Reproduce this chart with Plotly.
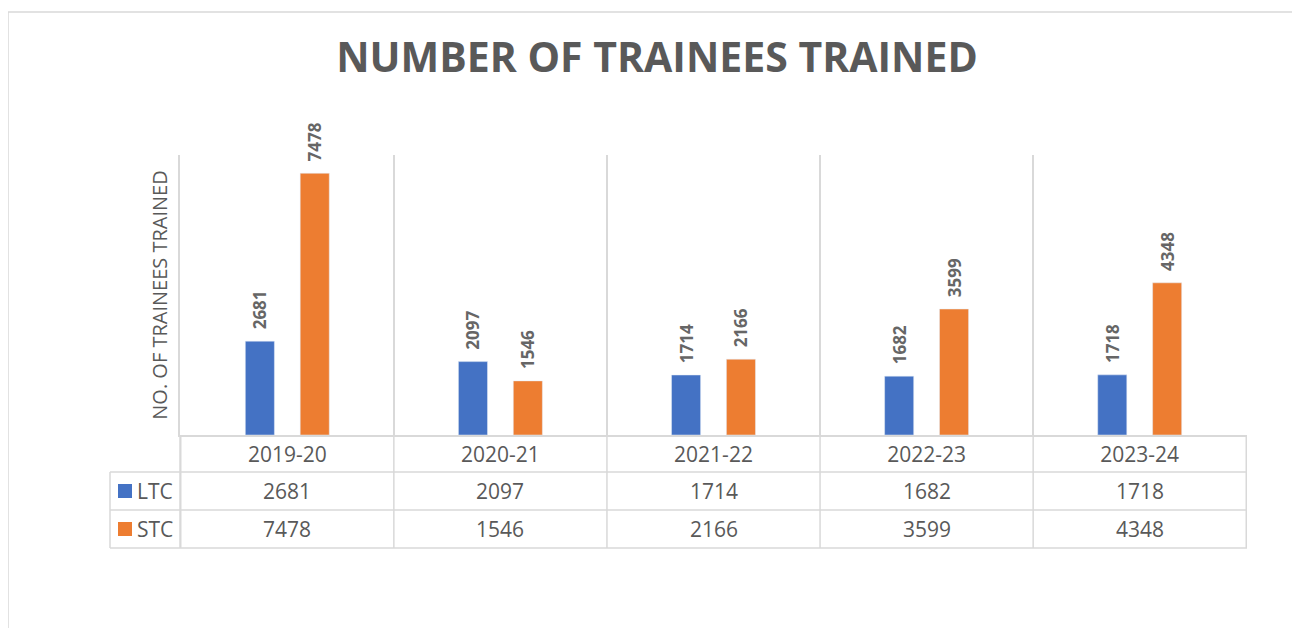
import plotly.graph_objects as go

W, H = 1300, 628

years = ["2019-20", "2020-21", "2021-22", "2022-23", "2023-24"]
ltc = [2681, 2097, 1714, 1682, 1718]
stc = [7478, 1546, 2166, 3599, 4348]

series = [("LTC", ltc, "#4472C4"), ("STC", stc, "#ED7D31")]

GRID = "#d9d9d9"
TXT = "#595959"
FONT = "Open Sans"
OFF = 8  # page body margin


def px(x):
    return (x - OFF) / W


def py(y):
    return 1 - (y - OFF) / H


fig = go.Figure()
for name, vals, color in series:
    fig.add_trace(go.Bar(
        x=years, y=vals, name=name, marker_color=color,
        texttemplate="\u00a0\u00a0%{y}", textposition="outside", textangle=-90,
        textfont=dict(family=FONT, size=17, color="#666666", weight="bold"),
        constraintext="none", cliponaxis=False,
    ))

# plot area in pixels
left, right, top, base = 180, 1247, 155, 435
rows = [472, 510, 548]

fig.update_layout(
    width=W, height=H,
    margin=dict(l=0, r=0, t=0, b=0),
    paper_bgcolor="white", plot_bgcolor="white",
    showlegend=False,
    barmode="group", bargap=0.485, bargroupgap=0.47,
    font=dict(family=FONT, color=TXT),
    title=dict(text="<b>NUMBER OF TRAINEES TRAINED</b>", x=px(657), xanchor="center",
               y=py(58), yanchor="middle",
               font=dict(family=FONT, size=41, color=TXT)),
    xaxis=dict(domain=[px(left), px(right)], type="category", tickson="boundaries",
               showgrid=True, gridcolor=GRID, gridwidth=1.5, ticks="",
               showline=True, linecolor=GRID, linewidth=1.5,
               tickfont=dict(family=FONT, size=21, color=TXT), ticklabelstandoff=0),
    yaxis=dict(domain=[py(base), py(top)], range=[0, 8000], showgrid=False,
               zeroline=False, showticklabels=False, ticks="",
               showline=True, linecolor=GRID, linewidth=1.5,
               title=dict(text="NO. OF TRAINEES TRAINED", standoff=5,
                          font=dict(family=FONT, size=20, color=TXT))),
)

shapes = []
# outer chart border
shapes.append(dict(type="rect", xref="paper", yref="paper", x0=px(8), x1=1.02,
                   y0=py(12), y1=-0.02, line=dict(color=GRID, width=1.5)))
# horizontal table lines
for r in rows:
    shapes.append(dict(type="line", xref="paper", yref="paper", x0=px(110), x1=px(right),
                       y0=py(r), y1=py(r), line=dict(color=GRID, width=1.5)))
# left legend column
for xv, y0 in [(110, rows[0]), (left, base)]:
    shapes.append(dict(type="line", xref="paper", yref="paper", x0=px(xv), x1=px(xv),
                       y0=py(y0), y1=py(rows[-1]), line=dict(color=GRID, width=1.5)))
# category boundaries extended into the table
for i in range(len(years) + 1):
    shapes.append(dict(type="line", xref="x", yref="paper", x0=i - 0.5, x1=i - 0.5,
                       y0=py(base), y1=py(rows[-1]), line=dict(color=GRID, width=1.5)))

annotations = []
row_mid = [(base + rows[0]) / 2, (rows[0] + rows[1]) / 2, (rows[1] + rows[2]) / 2]
for k, (name, vals, color) in enumerate(series):
    yc = row_mid[k + 1]
    shapes.append(dict(type="rect", xref="paper", yref="paper", x0=px(118), x1=px(132),
                       y0=py(yc + 7), y1=py(yc - 7), fillcolor=color, line=dict(width=0)))
    annotations.append(dict(text=name, xref="paper", yref="paper", x=px(135), y=py(yc),
                            xanchor="left", yanchor="middle", showarrow=False,
                            font=dict(family=FONT, size=21, color=TXT)))
    for yr, v in zip(years, vals):
        annotations.append(dict(text=str(v), xref="x", yref="paper", x=yr, y=py(yc),
                                xanchor="center", yanchor="middle", showarrow=False,
                                font=dict(family=FONT, size=21, color=TXT)))

fig.update_layout(shapes=shapes, annotations=annotations)
fig.write_html("out.html")
